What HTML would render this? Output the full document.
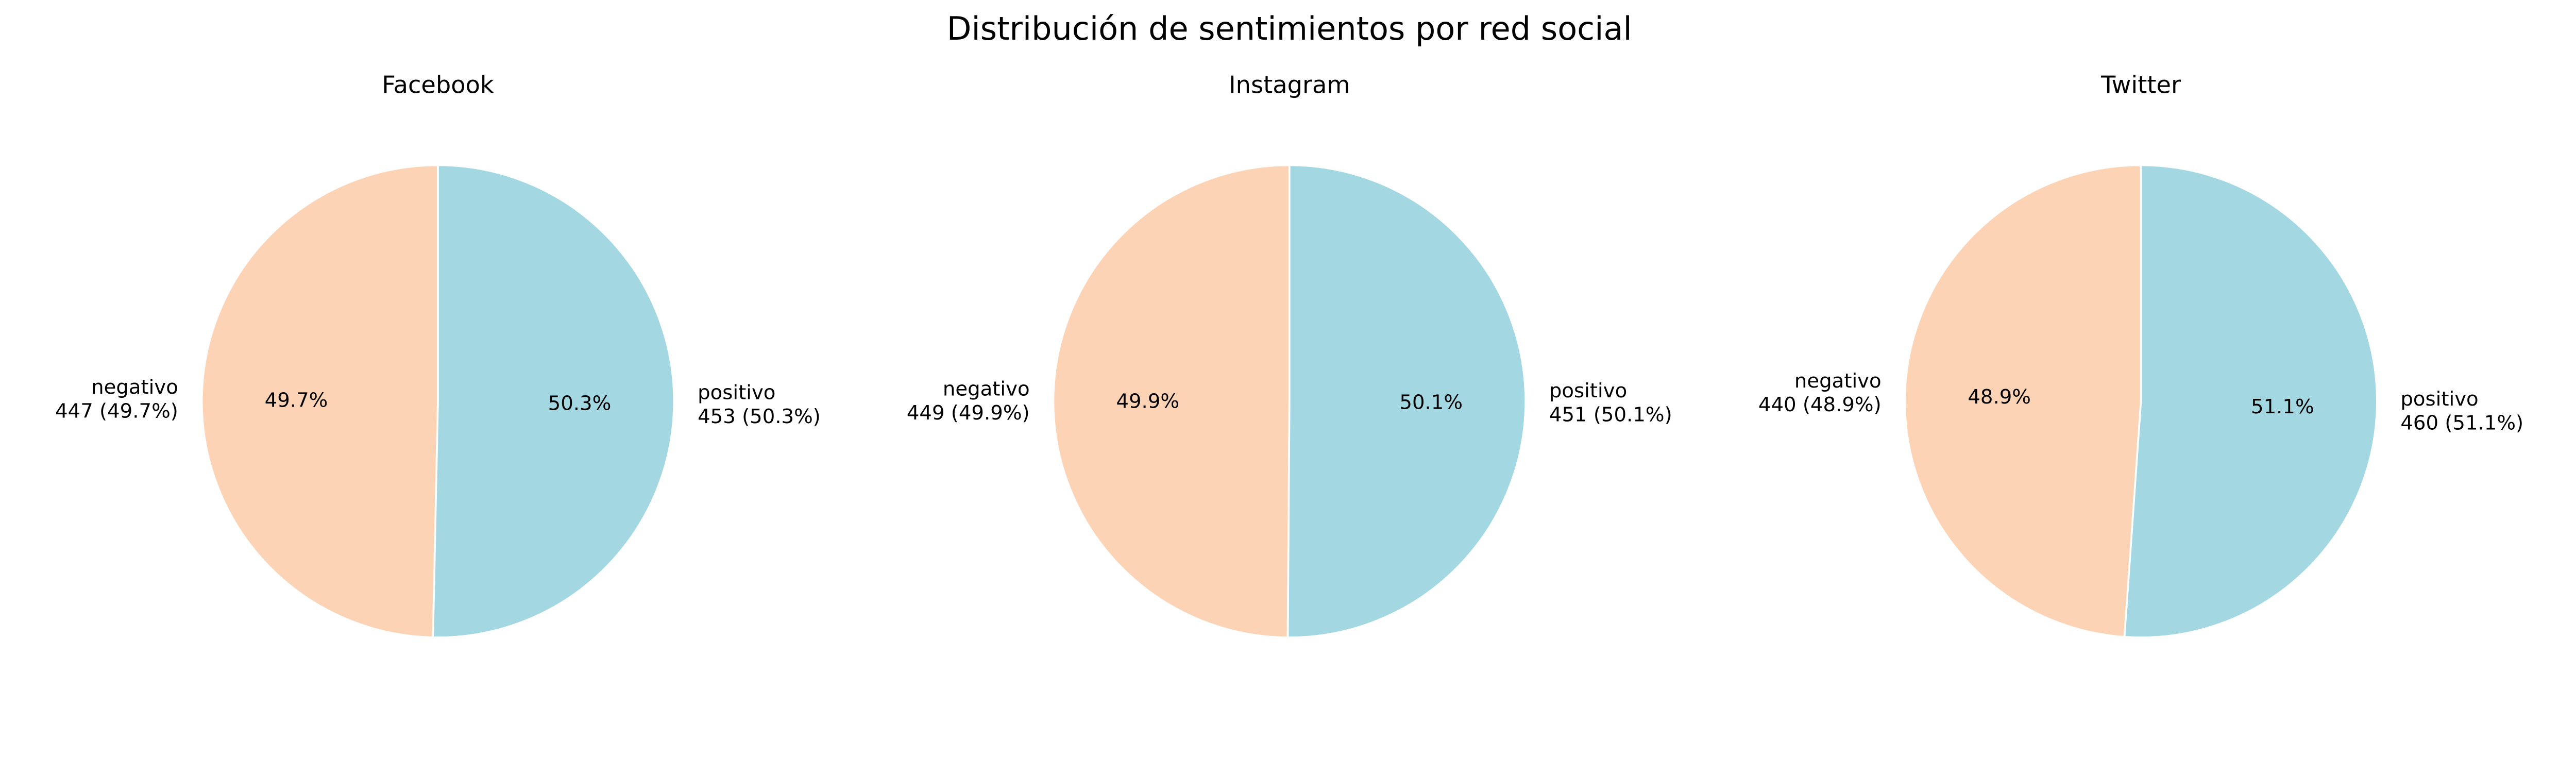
<!DOCTYPE html>
<html><head><meta charset="utf-8"><style>
html,body{margin:0;padding:0;background:#fff;overflow:hidden;}
svg{display:block;width:100vw;height:calc(100vw * 1500 / 5400);font-family:"DejaVu Sans","Liberation Sans",sans-serif;}
</style></head><body>
<svg id="chart" viewBox="0 0 5400 1500" preserveAspectRatio="xMinYMin meet" xmlns="http://www.w3.org/2000/svg">
<rect width="5400" height="1500" fill="#ffffff"/>
<text x="2703" y="83" font-size="67" text-anchor="middle" fill="#000">Distribución de sentimientos por red social</text>
</svg>
<script>
const networks = ["Facebook", "Instagram", "Twitter"];
const categories = ["negativo", "positivo"];
const negativoCounts = [447, 449, 440];
const positivoCounts = [453, 451, 460];

const svg = document.getElementById('chart');
const NS = 'http://www.w3.org/2000/svg';
const centersX = [918, 2703, 4488];
const CY = 841, R = 495;
const colors = ['#FDD3B5', '#A3D7E2'];

function mk(tag, attrs) {
  const e = document.createElementNS(NS, tag);
  for (const k in attrs) e.setAttribute(k, attrs[k]);
  return e;
}
function pt(cx, ang, r) {
  const a = ang * Math.PI / 180;
  return [cx + r * Math.cos(a), CY - r * Math.sin(a)];
}

networks.forEach((net, i) => {
  const cx = centersX[i];
  const g = mk('g', {});
  
  
  svg.appendChild(g);

  const t = mk('text', {x: cx, y: 195, 'font-size': 50, 'text-anchor': 'middle', fill: '#000'});
  
  
  t.textContent = net;
  g.appendChild(t);

  const vals = [negativoCounts[i], positivoCounts[i]];
  const total = vals[0] + vals[1];
  let start = 90;
  vals.forEach((v, j) => {
    const sweep = v / total * 360;
    const end = start + sweep;
    const p1 = pt(cx, start, R), p2 = pt(cx, end, R);
    const large = sweep > 180 ? 1 : 0;
    const d = `M${cx},${CY} L${p1[0]},${p1[1]} A${R},${R} 0 ${large} 0 ${p2[0]},${p2[1]} Z`;
    const path = mk('path', {d: d, fill: colors[j], stroke: '#ffffff', 'stroke-width': 4, 'stroke-linejoin': 'round'});
    
    
    g.appendChild(path);

    const mid = start + sweep / 2;
    const pct = (v / total * 100).toFixed(1) + '%';
    const pp = pt(cx, mid, R * 0.6);
    const pt1 = mk('text', {x: pp[0], y: pp[1] + 15, 'font-size': 41.7, 'text-anchor': 'middle', fill: '#000'});
    
    
    pt1.textContent = pct;
    g.appendChild(pt1);

    const lp = pt(cx, mid, R * 1.1);
    const anchor = lp[0] < cx ? 'end' : 'start';
    const lab = mk('text', {x: lp[0], y: lp[1] - 10, 'font-size': 41.7, 'text-anchor': anchor, fill: '#000'});
    
    
    const s1 = mk('tspan', {x: lp[0], dy: 0});
    s1.textContent = categories[j];
    const s2 = mk('tspan', {x: lp[0], dy: 50});
    s2.textContent = v + ' (' + pct + ')';
    lab.appendChild(s1); lab.appendChild(s2);
    g.appendChild(lab);

    start = end;
  });
});
</script>
</body></html>
